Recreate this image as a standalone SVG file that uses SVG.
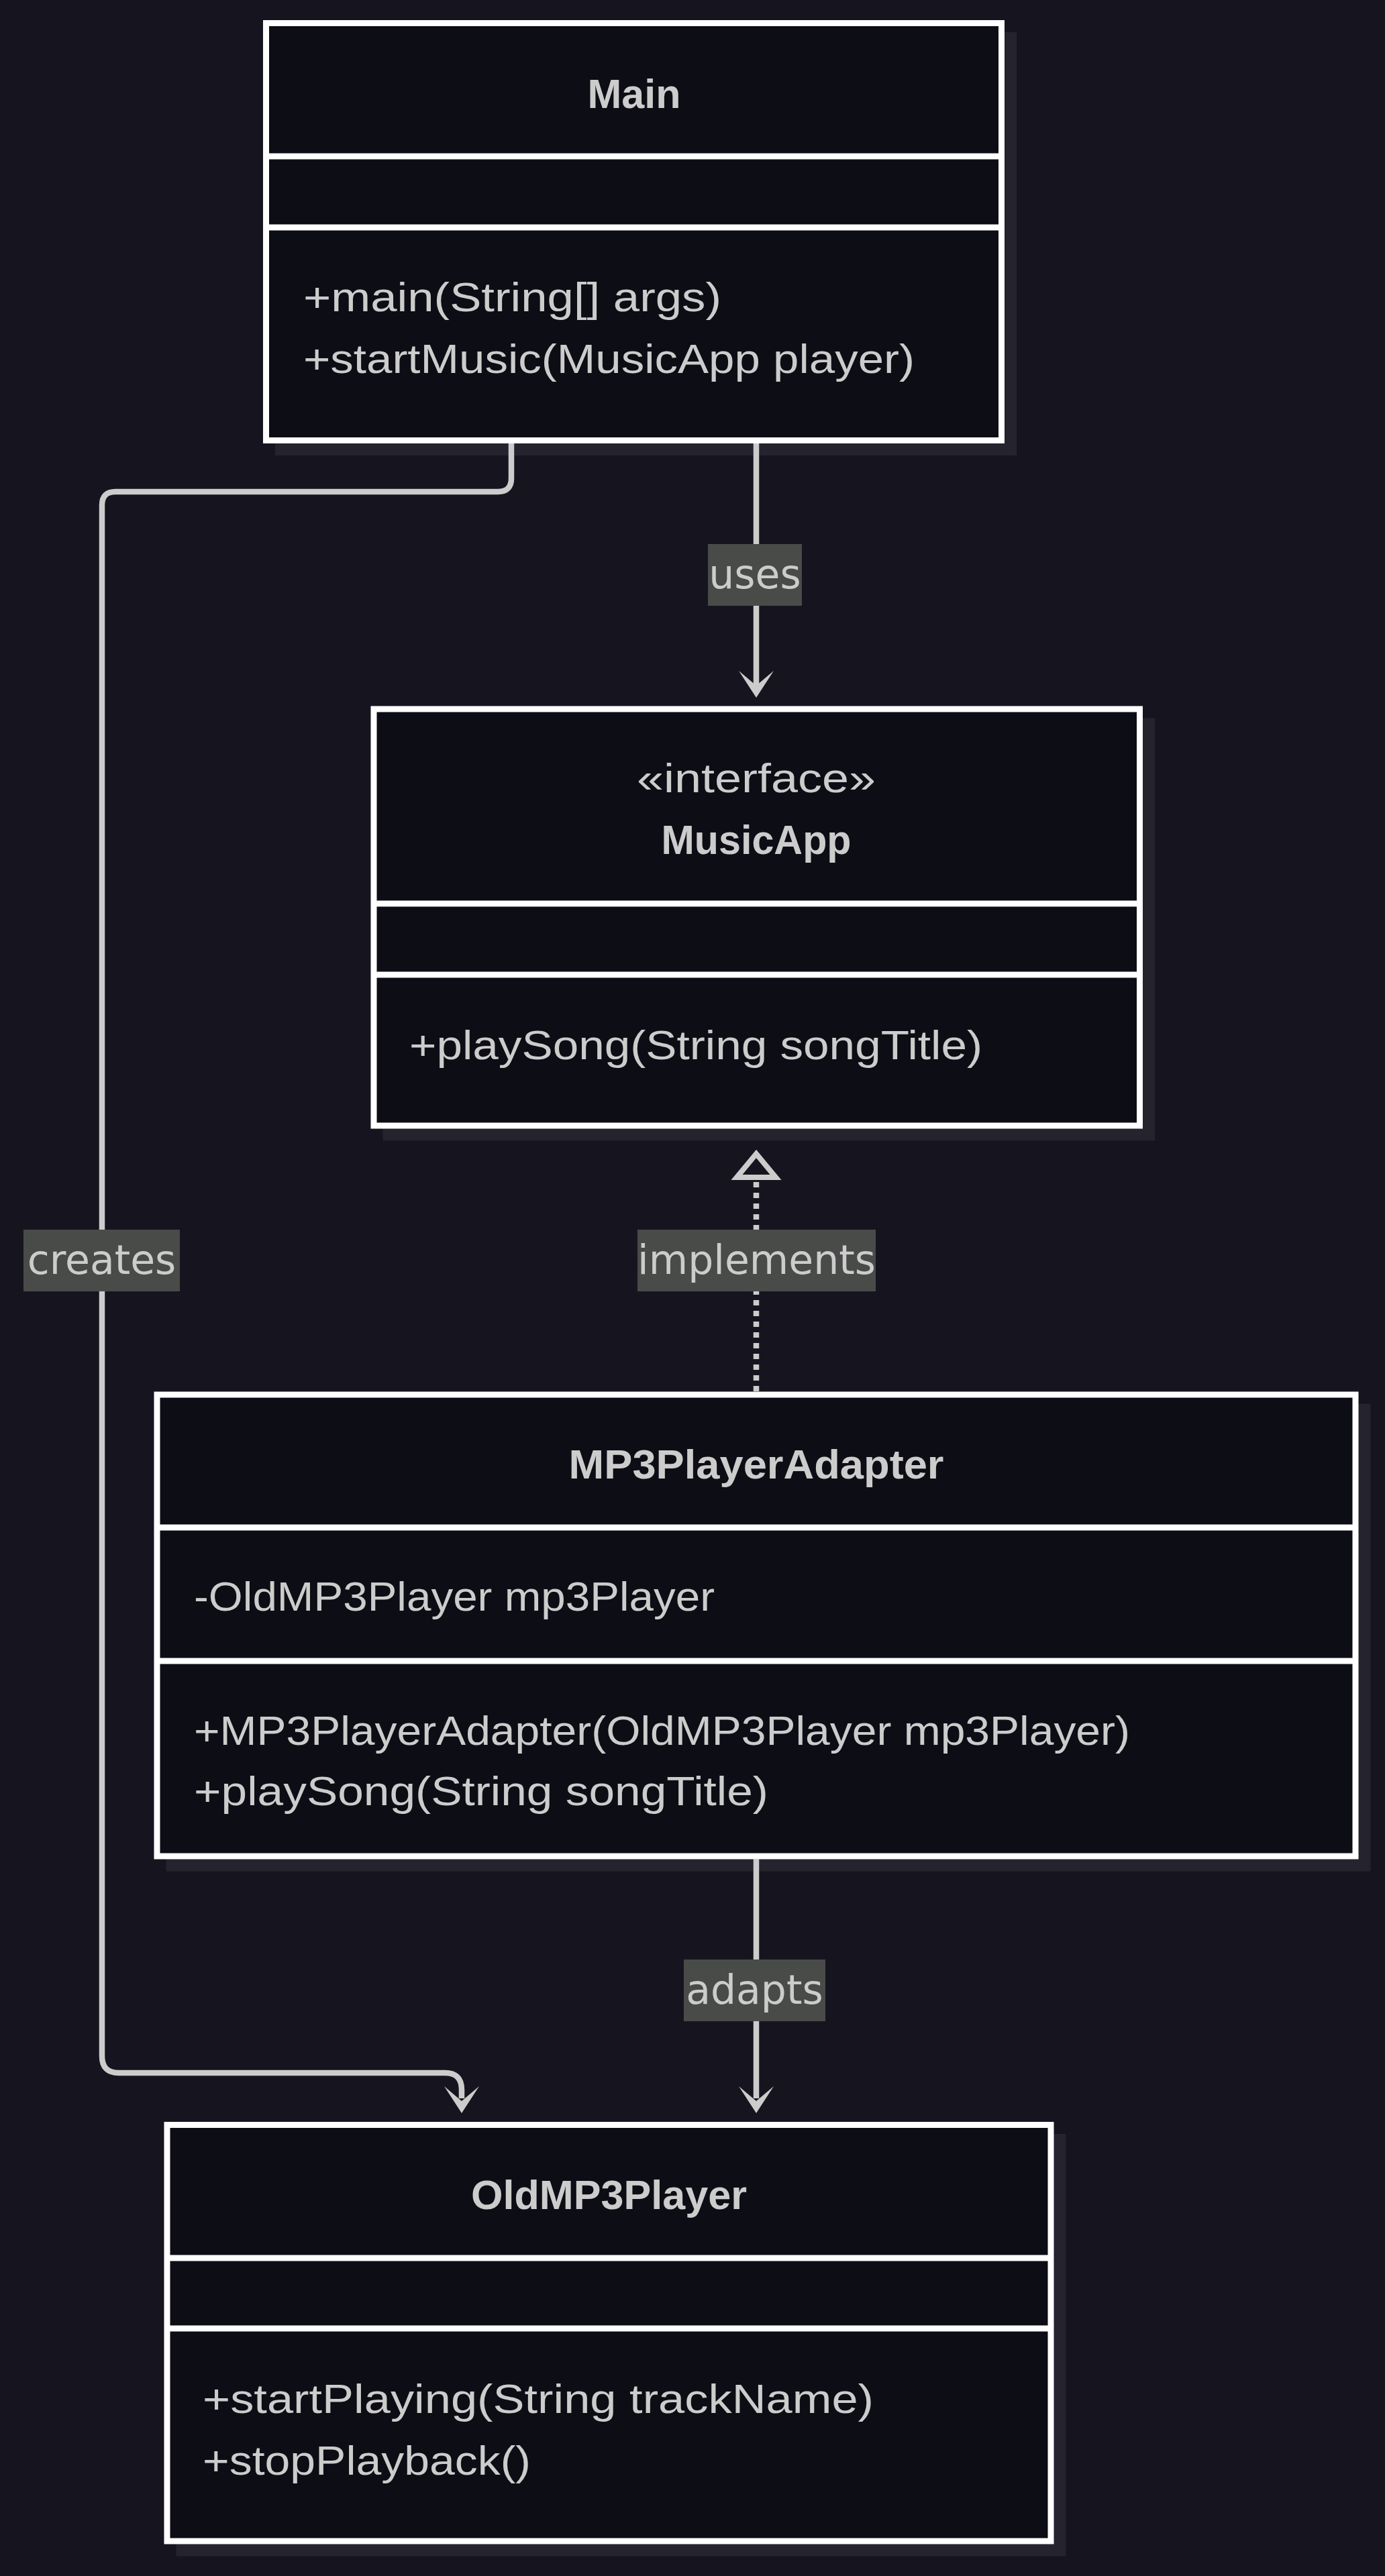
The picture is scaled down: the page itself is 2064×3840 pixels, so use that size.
<svg xmlns="http://www.w3.org/2000/svg" width="2064" height="3840" viewBox="0 0 2064 3840">
<style>
.bg{fill:#16151f}
.shadow{fill:#24232e}
.box{fill:#0d0d15;stroke:#ffffff;stroke-width:9}
.div{stroke:#ffffff;stroke-width:9}
.title{font-family:"Liberation Sans",Arial,sans-serif;font-weight:bold;font-size:61px;fill:#cccccc;text-anchor:middle}
.stereo{font-family:"Liberation Sans",Arial,sans-serif;font-size:61px;fill:#cccccc;text-anchor:middle}
.member{font-family:"Liberation Sans",Arial,sans-serif;font-size:61px;fill:#cccccc}
.edge{fill:none;stroke:#cccccc;stroke-width:8.5}
.dotted{stroke-dasharray:8 8}
.head{fill:#cccccc}
.tri{fill:#16151f;stroke:#cccccc;stroke-width:8}
.lblbg{fill:#494b49}
.lbl{font-family:"DejaVu Sans",sans-serif;font-size:60px;fill:#cccccc;text-anchor:middle}
</style>
<rect class="bg" x="0" y="0" width="2064" height="3840"/>

<g id="node-Main">
<rect class="shadow" x="410" y="48" width="1105" height="631"/>
<rect class="box" x="396.5" y="34.5" width="1096" height="622"/>
<line class="div" x1="396.5" y1="233" x2="1492.5" y2="233"/>
<line class="div" x1="396.5" y1="339" x2="1492.5" y2="339"/>
<text class="title" x="945" y="161" textLength="139" lengthAdjust="spacingAndGlyphs">Main</text>
<text class="member" x="452" y="464" textLength="623" lengthAdjust="spacingAndGlyphs">+main(String[] args)</text>
<text class="member" x="452" y="556" textLength="911" lengthAdjust="spacingAndGlyphs">+startMusic(MusicApp player)</text>
</g>

<g id="node-MusicApp">
<rect class="shadow" x="570.5" y="1070.5" width="1150.5" height="630"/>
<rect class="box" x="557" y="1057" width="1141.5" height="621"/>
<line class="div" x1="557" y1="1347" x2="1698.5" y2="1347"/>
<line class="div" x1="557" y1="1453" x2="1698.5" y2="1453"/>
<text class="stereo" x="1127" y="1181" textLength="356" lengthAdjust="spacingAndGlyphs">«interface»</text>
<text class="title" x="1127" y="1273" textLength="283" lengthAdjust="spacingAndGlyphs">MusicApp</text>
<text class="member" x="610" y="1579" textLength="854" lengthAdjust="spacingAndGlyphs">+playSong(String songTitle)</text>
</g>

<g id="node-MP3PlayerAdapter">
<rect class="shadow" x="247.5" y="2092.5" width="1795" height="697"/>
<rect class="box" x="234" y="2079" width="1786" height="688"/>
<line class="div" x1="234" y1="2277" x2="2020" y2="2277"/>
<line class="div" x1="234" y1="2476" x2="2020" y2="2476"/>
<text class="title" x="1127" y="2204" textLength="559" lengthAdjust="spacingAndGlyphs">MP3PlayerAdapter</text>
<text class="member" x="289" y="2401" textLength="776" lengthAdjust="spacingAndGlyphs">-OldMP3Player mp3Player</text>
<text class="member" x="289" y="2601" textLength="1395" lengthAdjust="spacingAndGlyphs">+MP3PlayerAdapter(OldMP3Player mp3Player)</text>
<text class="member" x="289" y="2691" textLength="856" lengthAdjust="spacingAndGlyphs">+playSong(String songTitle)</text>
</g>

<g id="node-OldMP3Player">
<rect class="shadow" x="262.5" y="3181" width="1326" height="629.5"/>
<rect class="box" x="249" y="3167.5" width="1317" height="620.5"/>
<line class="div" x1="249" y1="3366" x2="1566" y2="3366"/>
<line class="div" x1="249" y1="3471" x2="1566" y2="3471"/>
<text class="title" x="907.5" y="3293" textLength="411" lengthAdjust="spacingAndGlyphs">OldMP3Player</text>
<text class="member" x="302" y="3597" textLength="1000" lengthAdjust="spacingAndGlyphs">+startPlaying(String trackName)</text>
<text class="member" x="302" y="3689" textLength="489" lengthAdjust="spacingAndGlyphs">+stopPlayback()</text>
</g>

<g id="connectors">
<g id="edge-uses">
<path class="edge" d="M1127 661 L1127 1028"/>
<polygon class="head" points="1101,1000 1127,1040 1153,1000 1127,1022"/>
<rect class="lblbg" x="1055" y="811" width="140" height="92"/>
<text class="lbl" x="1125" y="877">uses</text>
</g>
<g id="edge-creates">
<path class="edge" d="M762 661 L762 713 Q762 733 742 733 L172 733 Q152 733 152 753 L152 3065 Q152 3090 177 3090 L663 3090 Q688 3090 688 3115 L688 3128"/>
<polygon class="head" points="662,3110 688,3150 714,3110 688,3132"/>
<rect class="lblbg" x="35" y="1833" width="233" height="92"/>
<text class="lbl" x="151.5" y="1899">creates</text>
</g>
<g id="edge-implements">
<path class="edge dotted" d="M1127 2074 L1127 1759"/>
<polygon class="tri" points="1127,1720 1098,1755 1156,1755"/>
<rect class="lblbg" x="950" y="1833" width="355" height="92"/>
<text class="lbl" x="1127.5" y="1899">implements</text>
</g>
<g id="edge-adapts">
<path class="edge" d="M1127 2771 L1127 3128"/>
<polygon class="head" points="1101,3110 1127,3150 1153,3110 1127,3132"/>
<rect class="lblbg" x="1019" y="2921" width="211" height="92"/>
<text class="lbl" x="1124.5" y="2987">adapts</text>
</g>
</g>
</svg>
